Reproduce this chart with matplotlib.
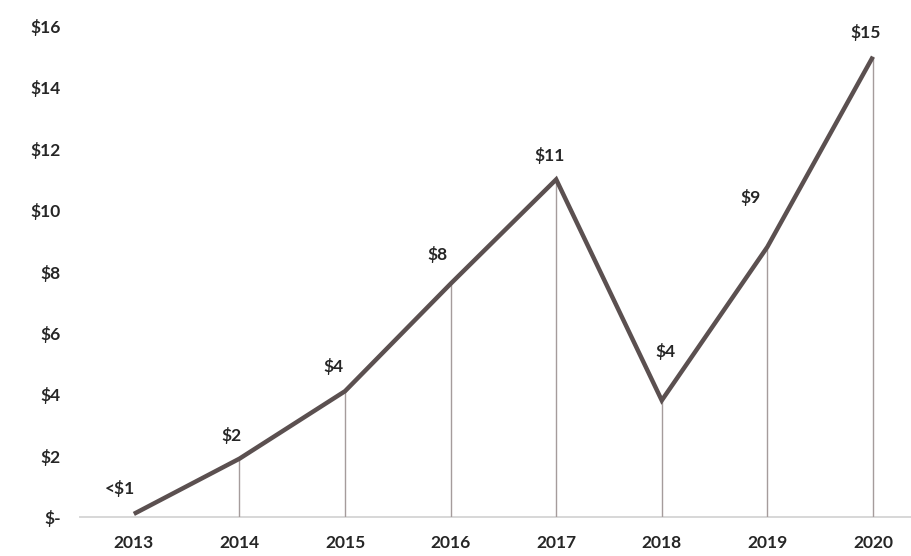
import matplotlib.pyplot as plt

# annual values ($)
years = ["2013", "2014", "2015", "2016", "2017", "2018", "2019", "2020"]
values = [0.1, 1.9, 4.1, 7.6, 11.0, 3.8, 8.8, 15.0]
y_ticks = [0, 2, 4, 6, 8, 10, 12, 14, 16]

# label nudges in pixels (dx, dy) relative to each point
label_offsets = [(-14, 17), (-8, 15), (-12, 16), (-13, 21), (-7, 15), (4, 40), (-17, 41), (-7, 16)]


def money(v):
    if v < 1:
        return "<$1"
    return f"${round(v):.0f}"


plt.rcParams["font.family"] = ["Lato", "DejaVu Sans"]
text_color = "#262626"

fig = plt.figure(figsize=(9.12, 5.56), dpi=100)
fig.patch.set_facecolor("white")
ax = fig.add_axes([80 / 912, 1 - 517 / 556, 832 / 912, (517 - 26) / 556])

x = list(range(len(years)))

# thin drop lines from the baseline up to each point
for xi, v in zip(x, values):
    if v >= 1:
        ax.plot([xi, xi], [0, v], color="#a59c9c", lw=1.0, zorder=1)

ax.axhline(0, color="#d4d4d4", lw=1.3, zorder=0, clip_on=False)
ax.plot(x, values, color="#5b5050", lw=3.2, solid_capstyle="butt",
        solid_joinstyle="miter", zorder=3, clip_on=False)

for xi, v, (dx, dy) in zip(x, values, label_offsets):
    ax.annotate(money(v), (xi, v), xytext=(dx * 0.72, dy * 0.72),
                textcoords="offset points", ha="center", va="bottom",
                fontsize=12.5, fontweight="bold", color=text_color,
                annotation_clip=False)

ax.set_xlim(-0.51, 7.37)
ax.set_ylim(0, 16)
ax.set_xticks(x)
ax.set_xticklabels(years)
ax.set_yticks(y_ticks)
ax.set_yticklabels(["$-" if t == 0 else f"${t}" for t in y_ticks])
ax.tick_params(axis="both", length=0, labelsize=12.5, labelcolor=text_color)
ax.tick_params(axis="x", pad=13)
ax.tick_params(axis="y", pad=14)
for lbl in ax.get_xticklabels() + ax.get_yticklabels():
    lbl.set_fontweight("bold")

for s in ax.spines.values():
    s.set_visible(False)
ax.set_facecolor("none")

fig.savefig("out.png", dpi=100, facecolor="white")
